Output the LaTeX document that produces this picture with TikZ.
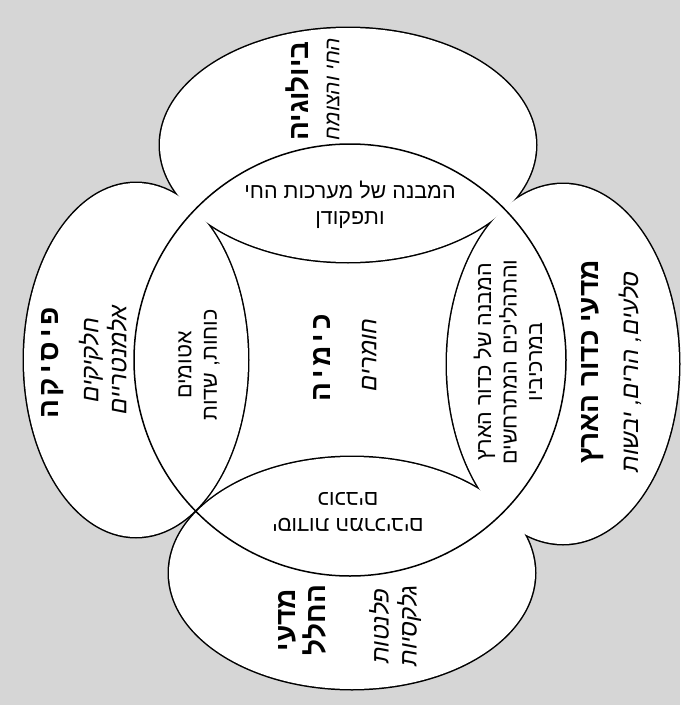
\documentclass[tikz,border=0pt]{standalone}
\usepackage{fontspec}
\newfontfamily\hebfont[Script=Hebrew]{Liberation Sans}
\TeXXeTstate=1
\newcommand{\rl}[1]{\beginR #1\endR}
\newcommand{\lgap}{\kern4pt}

\tikzset{
  head/.style={font=\hebfont\bfseries\fontsize{28}{30}\selectfont, rotate=90, align=center},
  note/.style={font=\hebfont\itshape\fontsize{24}{28}\selectfont, rotate=90, align=center},
  lens/.style={font=\hebfont\fontsize{21.5}{25.5}\selectfont, align=center},
  petal/.style={line width=3pt},
}

\begin{document}
\begin{tikzpicture}[x=1pt,y=-1pt]
    \useasboundingbox (0,0) rectangle (683,720);
    \fill[black!16] (0,0) rectangle (680,705); %
    \fill[white] (350,360) circle (216); %
    % petals: thick outline, then white fill keeps only the outer edge
    \draw[petal] (348,145) ellipse [x radius=188, y radius=117];
    \draw[petal] (563,364) ellipse [x radius=116, y radius=180];
    \draw[petal] (352,573) ellipse [x radius=183, y radius=116];
    \draw[petal] (136,360) ellipse [x radius=112, y radius=177];
    \fill[white] (348,145) ellipse [x radius=188, y radius=117];
    \fill[white] (563,364) ellipse [x radius=116, y radius=180];
    \fill[white] (352,573) ellipse [x radius=183, y radius=116];
    \fill[white] (136,360) ellipse [x radius=112, y radius=177];
    \draw[line width=1.5pt] (350,360) circle (216); %

    \node[head] (bio) at (298,91) {\rl{ביולוגיה}};
    \node[note, font=\hebfont\itshape\fontsize{21}{25}\selectfont] (bionote) at (333,89) {\rl{החי והצומח}};
    \node[head] (earth) at (593,362) {\rl{מדעי כדור הארץ}};
    \node[note] (earthnote) at (630,372) {\rl{סלעים, הרים, יבשות}};
    \node[head] (space) at (302,620) {\rl{מדעי}\\\rl{החלל}};
    \node[note] (spacenote) at (395,626) {\rl{פלנטות}\\\rl{גלקסיות}};
    \node[head] (phys) at (53,363) {\rl{פ\lgap י\lgap ס\lgap י\lgap ק\lgap ה}};
    \node[note] (physnote) at (103,360) {\rl{חלקיקים}\\\rl{אלמנטריים}};
    \node[head] (chem) at (322,358) {\rl{כ\lgap י\lgap מ\lgap י\lgap ה}};
    \node[note] (chemnote) at (369,355) {\rl{חומרים}};

    \node[lens] (biochem) at (350,205) {\rl{המבנה של מערכות החי}\\\rl{ותפקודן}};
    \node[lens, rotate=90] (earthchem) at (508,362) {\rl{המבנה של כדור הארץ}\\\rl{והתהליכים המתרחשים}\\\rl{במרכיביו}};
    \node[lens, rotate=180] (spacechem) at (348,512) {\rl{יסודות המרכיבים}\\\rl{כוכבים}};
    \node[lens, rotate=90] (physchem) at (199,365) {\rl{אטומים}\\\rl{כוחות, שדות}};
\end{tikzpicture}
\end{document}
